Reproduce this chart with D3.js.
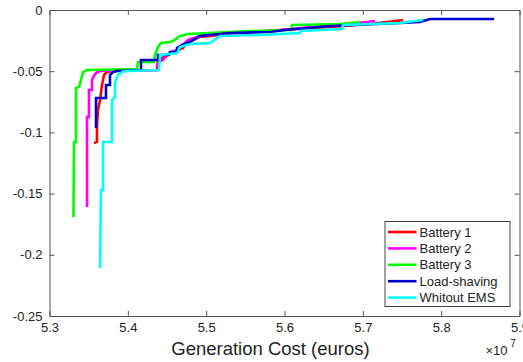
<!DOCTYPE html>
<html>
<head>
<meta charset="utf-8">
<script src="https://cdn.jsdelivr.net/npm/d3@7"></script>
<style>
  body { margin: 0; background: #fff; }
  svg { display: block; font-family: "Liberation Sans", Arial, sans-serif; }
</style>
</head>
<body>
<svg id="chart" width="523" height="362"></svg>
<script>
// Pareto fronts: [generation cost (x10^7 euros), objective]
let battery1 = [[5.3568,-0.1087],[5.3606,-0.1078],[5.3606,-0.094],[5.3619,-0.0817],[5.3645,-0.0735],[5.367,-0.0613],[5.3696,-0.0531],[5.3734,-0.0507],[5.3798,-0.0498],[5.4372,-0.049],[5.4385,-0.0409],[5.4474,-0.0384],[5.4564,-0.0343],[5.464,-0.0327],[5.4704,-0.031],[5.4755,-0.027],[5.492,-0.022],[5.543,-0.0188],[5.5943,-0.0163],[5.658,-0.0139],[5.709,-0.0114],[5.7513,-0.0082]];
let battery2 = [[5.3479,-0.1609],[5.3479,-0.0874],[5.3504,-0.0874],[5.3504,-0.0654],[5.3543,-0.0654],[5.3543,-0.0572],[5.3568,-0.0539],[5.3594,-0.0515],[5.3645,-0.0498],[5.4385,-0.049],[5.4385,-0.0425],[5.445,-0.0409],[5.4487,-0.0368],[5.4564,-0.0343],[5.4628,-0.0327],[5.4704,-0.0286],[5.4768,-0.0245],[5.492,-0.0212],[5.53,-0.0188],[5.5943,-0.0163],[5.6198,-0.0147],[5.6709,-0.0123],[5.7156,-0.009]];
let battery3 = [[5.3306,-0.1691],[5.3313,-0.1078],[5.3338,-0.1078],[5.3338,-0.0637],[5.3377,-0.0629],[5.3402,-0.0572],[5.3428,-0.0507],[5.3479,-0.049],[5.4117,-0.0482],[5.413,-0.0425],[5.4334,-0.0425],[5.4347,-0.0368],[5.4385,-0.0302],[5.4423,-0.027],[5.4538,-0.0261],[5.4577,-0.0253],[5.4666,-0.0212],[5.4768,-0.0196],[5.556,-0.0172],[5.6083,-0.0163],[5.6096,-0.0123],[5.6709,-0.0114],[5.6964,-0.0098]];
let loadShaving = [[5.3594,-0.0964],[5.3594,-0.0719],[5.3721,-0.0719],[5.3721,-0.0613],[5.3772,-0.0613],[5.3772,-0.0531],[5.3811,-0.0507],[5.3862,-0.0498],[5.4168,-0.049],[5.4168,-0.0409],[5.4385,-0.0409],[5.4385,-0.0368],[5.4526,-0.0368],[5.4538,-0.0343],[5.4628,-0.0343],[5.4628,-0.031],[5.4691,-0.0286],[5.4794,-0.0261],[5.492,-0.0212],[5.53,-0.0188],[5.5815,-0.018],[5.6006,-0.0163],[5.658,-0.0131],[5.7474,-0.0106],[5.773,-0.0098],[5.7858,-0.0074],[5.8676,-0.0074]];
let withoutEMS = [[5.3645,-0.2108],[5.3657,-0.1471],[5.3683,-0.1471],[5.3683,-0.1078],[5.3798,-0.1078],[5.3798,-0.0735],[5.3836,-0.0711],[5.3836,-0.0596],[5.3874,-0.0531],[5.3926,-0.0507],[5.3989,-0.0498],[5.4398,-0.049],[5.4411,-0.0368],[5.4628,-0.0351],[5.4666,-0.0302],[5.4794,-0.0278],[5.505,-0.027],[5.5177,-0.0212],[5.5688,-0.0204],[5.6198,-0.0188],[5.6198,-0.0172],[5.6734,-0.0155],[5.6747,-0.0123],[5.7474,-0.0106],[5.7768,-0.0082]];

let seriesNames = ["Battery 1", "Battery 2", "Battery 3", "Load-shaving", "Whitout EMS"];
let seriesColors = ["#ff0000", "#ff00ff", "#00ff00", "#0000cc", "#00ffff"];
let seriesData = [battery1, battery2, battery3, loadShaving, withoutEMS];

let xTicks = [5.3, 5.4, 5.5, 5.6, 5.7, 5.8, 5.9];
let yTicks = [0, -0.05, -0.1, -0.15, -0.2, -0.25];

let margin = {top: 10, right: 3.5, bottom: 46, left: 49.5},
    width = 523 - margin.left - margin.right,
    height = 362 - margin.top - margin.bottom;

let x = d3.scaleLinear().domain([5.3, 5.9]).range([0, width]);
let y = d3.scaleLinear().domain([-0.25, 0]).range([height, 0]);

let svg = d3.select("#chart")
  .append("g")
  .attr("transform", "translate(" + margin.left + "," + margin.top + ")");

// box + ticks (matlab style, inward)
let axisColor = "#555";
let fmtX = d => d3.format(".1f")(d);
let fmtY = d => d === 0 ? "0" : String(d).replace("-", "-");

let gx = svg.append("g")
  .attr("transform", "translate(0," + height + ")")
  .call(d3.axisBottom(x).tickValues(xTicks).tickSizeInner(-5).tickSizeOuter(0).tickPadding(8).tickFormat(fmtX));
let gxt = svg.append("g")
  .call(d3.axisTop(x).tickValues(xTicks).tickSizeInner(-5).tickSizeOuter(0).tickFormat(""));
let gy = svg.append("g")
  .call(d3.axisLeft(y).tickValues(yTicks).tickSizeInner(-5).tickSizeOuter(0).tickPadding(7).tickFormat(fmtY));
let gyr = svg.append("g")
  .attr("transform", "translate(" + width + ",0)")
  .call(d3.axisRight(y).tickValues(yTicks).tickSizeInner(-5).tickSizeOuter(0).tickFormat(""));

[gx, gxt, gy, gyr].forEach(g => {
  g.select(".domain").attr("stroke", axisColor);
  g.selectAll(".tick line").attr("stroke", axisColor);
  g.selectAll(".tick text").attr("fill", "#222").style("font-size", "13px");
});
gx.selectAll(".tick text").attr("dy", "0.6em");

// the lines
let line = d3.line().x(d => x(d[0])).y(d => y(d[1]));
seriesData.forEach((s, i) => {
  svg.append("path")
    .datum(s)
    .attr("fill", "none")
    .attr("stroke", seriesColors[i])
    .attr("stroke-width", 2.6)
    .attr("stroke-linejoin", "miter")
    .attr("d", line);
});

// x label
svg.append("text")
  .attr("x", 221)
  .attr("y", height + 39)
  .attr("text-anchor", "middle")
  .style("font-size", "18.5px")
  .attr("fill", "#222")
  .text("Generation Cost (euros)");

let exp = svg.append("text")
  .attr("x", 436)
  .attr("y", height + 39)
  .style("font-size", "13px")
  .attr("fill", "#222");
exp.append("tspan").text("\u00d710");
exp.append("tspan").attr("dy", -8).style("font-size", "10px").text(" 7");

// legend
let legend = svg.append("g").attr("transform", "translate(" + (385 - margin.left) + "," + (221.5 - margin.top) + ")");
legend.append("rect")
  .attr("width", 125).attr("height", 85)
  .attr("fill", "#fff").attr("stroke", "#444").attr("stroke-width", 1);
seriesNames.forEach((n, i) => {
  let yy = 10.5 + i * 16.4;
  legend.append("line")
    .attr("x1", 3).attr("x2", 31.5).attr("y1", yy).attr("y2", yy)
    .attr("stroke", seriesColors[i]).attr("stroke-width", 2.6);
  legend.append("text")
    .attr("x", 34.5).attr("y", yy).attr("dy", "0.36em")
    .style("font-size", "13px").attr("fill", "#222")
    .text(n);
});
</script>
</body>
</html>
